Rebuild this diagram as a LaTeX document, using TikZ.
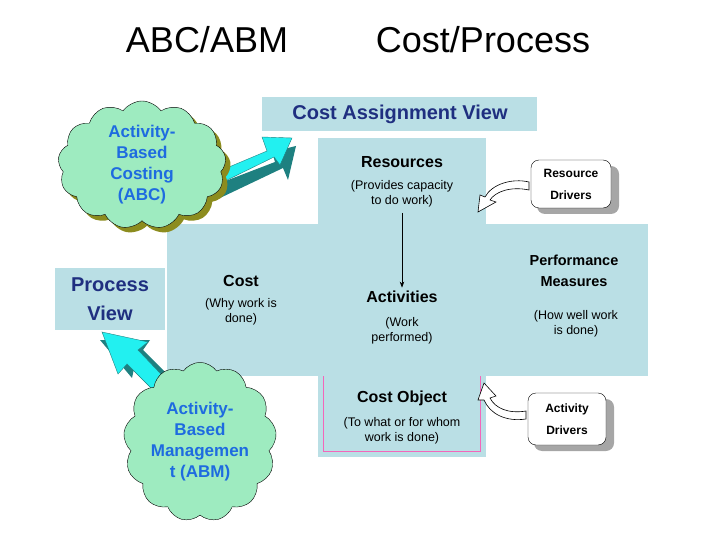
\documentclass[tikz,border=0pt]{standalone}
\usepackage{fontspec}
\setmainfont{Liberation Sans}
\usetikzlibrary{shapes.symbols,arrows.meta}
\definecolor{lb}{HTML}{BADFE5}
\definecolor{dblue}{HTML}{1F2F80}
\definecolor{cblue}{HTML}{1E6BE0}
\definecolor{cgreen}{HTML}{9EEBC0}
\definecolor{olive}{HTML}{8C8C1E}
\definecolor{cyanA}{HTML}{22F0F0}
\definecolor{tealA}{HTML}{1E8080}
\tikzset{
 panel/.style={fill=lb,draw=none},
 bold/.style={font=\bfseries\fontsize{16}{18}\selectfont},
 small/.style={font=\fontsize{12.5}{15}\selectfont,align=center},
 drv/.style={draw=black,fill=white,rounded corners=8pt,align=center,font=\bfseries\fontsize{12}{22}\selectfont,minimum width=80pt,minimum height=48pt,inner sep=0pt},
 shad/.style={fill=gray!70,rounded corners=8pt,draw=none},
 cloudst/.style={cloud,cloud puffs=13,cloud puff arc=110,aspect=1.3,draw=black,fill=cgreen,align=center,text=cblue,font=\bfseries\fontsize{17}{21}\selectfont,inner sep=0pt},
 title/.style={font=\fontsize{36}{40}\selectfont},
 wa/.style={draw=black,fill=white,line width=0.6pt}
}
\begin{document}
\begin{tikzpicture}[x=1pt,y=-1pt]
\useasboundingbox (0,0) rectangle (720,540);
\node[title] (t1) at (207,40) {ABC/ABM};
\node[title] (t2) at (483,40) {Cost/Process};
% panels
\fill[panel] (262,97) rectangle (537,131);
\node[font=\bfseries\fontsize{20}{24}\selectfont,text=dblue] (cav) at (400,114) {Cost Assignment View};
\fill[panel] (318,138) rectangle (486,224);
\fill[panel] (167,224) rectangle (648,376);
\fill[panel] (318,376) rectangle (486,457);
\draw[magenta!60,line width=0.6pt] (323,376) -- (323,451) -- (480,451) -- (480,376);
\fill[panel] (55,268) rectangle (165,330);
\node[font=\bfseries\fontsize{20}{29}\selectfont,text=dblue,align=center] (pv) at (110,299) {Process\\View};
% texts
\node[bold] (res) at (402,162) {Resources};
\node[small] (resd) at (402,194) {(Provides capacity\\to do work)};
\node[bold] (act) at (402,297) {Activities};
\node[small] (actd) at (402,331) {(Work\\performed)};
\node[bold] (cost) at (241,281) {Cost};
\node[small] (costd) at (241,312) {(Why work is\\done)};
\node[align=center,font=\bfseries\fontsize{14.5}{21}\selectfont] (pm) at (574,271) {Performance\\Measures};
\node[small] (pmd) at (576,324) {(How well work\\is done)};
\node[bold] (co) at (402,398) {Cost Object};
\node[small] (cod) at (402,431) {(To what or for whom\\work is done)};
\draw[-{Stealth[length=6pt]},line width=0.6pt] (402,213) -- (act.north);
% drivers
\fill[shad] (537,166) rectangle (619,214);
\node[drv] (rd) at (571,184) {Resource\\Drivers};
\fill[shad] (534,399) rectangle (614,451);
\node[drv,minimum width=78pt,minimum height=52pt] (ad) at (567,419) {Activity\\Drivers};
% curved white arrows
\draw[wa] (529,190) .. controls (510,186) and (495,192) .. (490,200) -- (496,202) -- (478,212) -- (480,195) -- (485,197) .. controls (492,184) and (512,178) .. (529,182) -- cycle;
\draw[wa] (526,411) .. controls (508,414) and (495,408) .. (490,398) -- (496,396) -- (484,383) -- (478,400) -- (484,400) .. controls (490,414) and (506,422) .. (526,419) -- cycle;
% cyan arrows
\fill[tealA] (215,185) -- (275,162) -- (272,152) -- (296,146) -- (288,180) -- (283,168) -- (220,198) -- cycle;
\fill[cyanA,draw=tealA] (210,175) -- (267,151) -- (262,137) -- (292,138) -- (280,165) -- (274,157) -- (215,186) -- cycle;
\fill[tealA] (173,400) -- (135,364) -- (132,378) -- (100,340) -- (150,340) -- (143,350) -- (185,392) -- cycle;
\fill[cyanA,draw=tealA] (165,402) -- (127,364) -- (118,374) -- (102,332) -- (148,342) -- (138,350) -- (178,392) -- cycle;
% clouds
\node[cloudst,fill=olive,draw=none,minimum width=168pt,minimum height=128pt] at (147,170) {};
\node[cloudst,minimum width=168pt,minimum height=128pt] (abc) at (142,165) {Activity-\\Based\\Costing\\(ABC)};
\node[cloudst,fill=olive,draw=none,aspect=0.95,minimum width=132pt,minimum height=140pt] at (205,447) {};
\node[cloudst,aspect=0.95,minimum width=132pt,minimum height=140pt] (abm) at (200,442) {Activity-\\Based\\Managemen\\t (ABM)};
\end{tikzpicture}
\end{document}
